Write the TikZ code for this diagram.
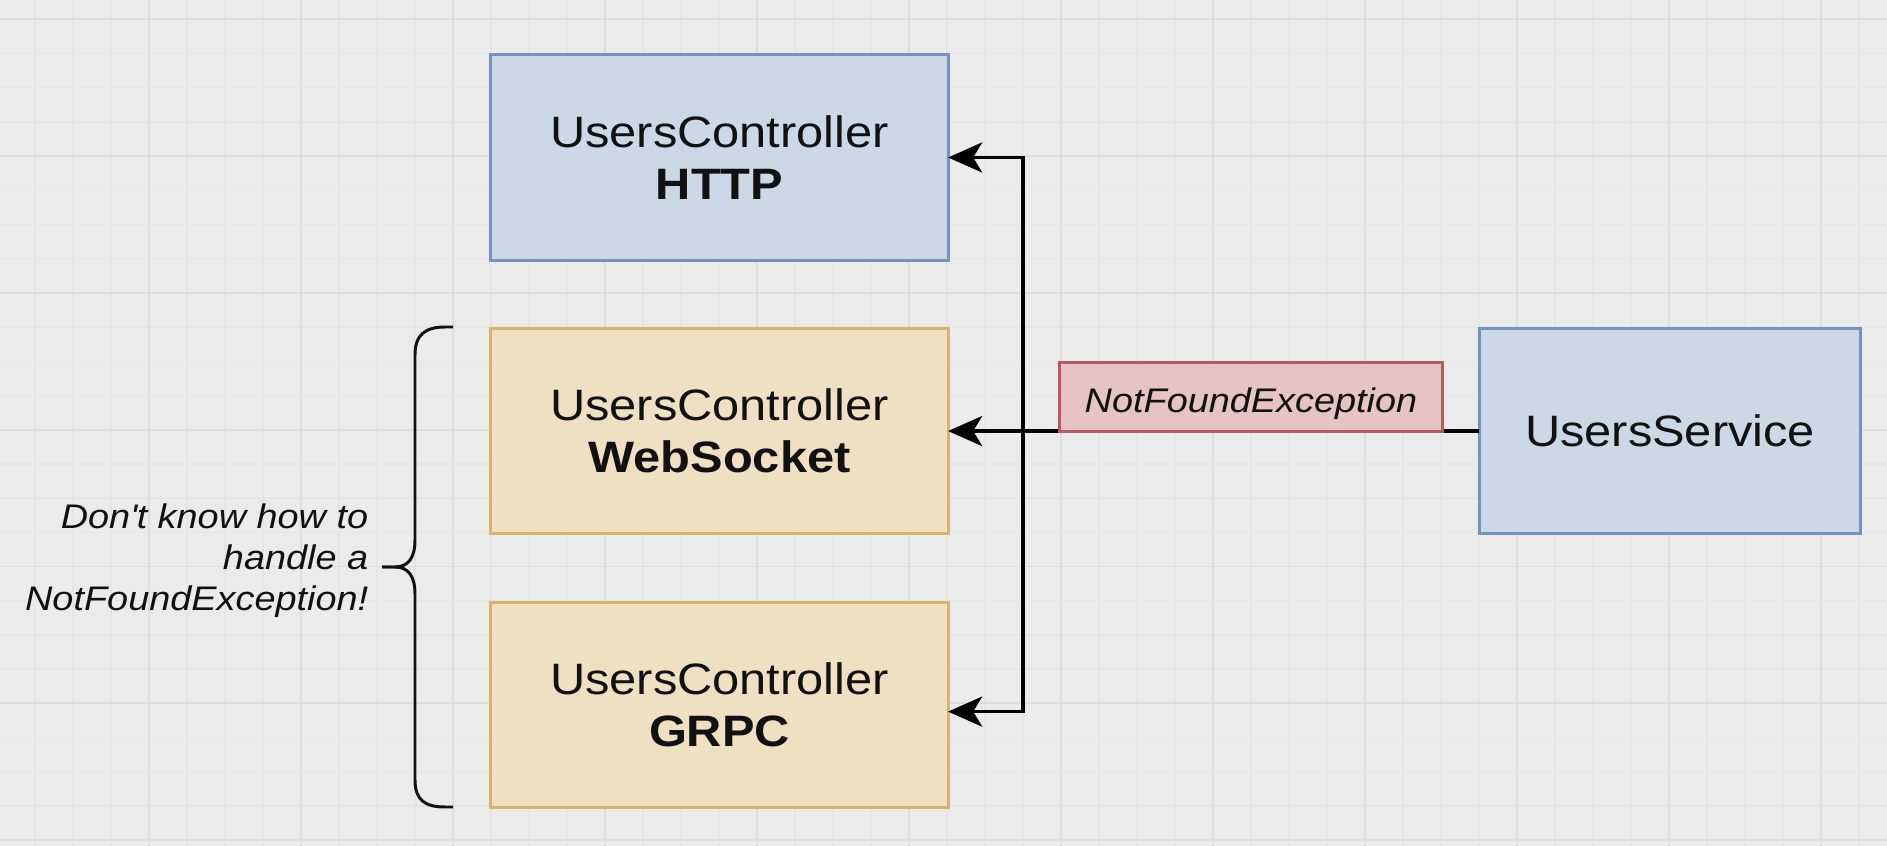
\documentclass[tikz,border=0pt]{standalone}
\usepackage{fontspec}
\setmainfont{Liberation Sans}[FakeStretch=1.11]
\usetikzlibrary{positioning,calc,arrows.meta}

\definecolor{bgc}{RGB}{235,235,235}
\definecolor{gridc}{RGB}{229,229,229}
\definecolor{gridm}{RGB}{222,222,222}
\definecolor{bluef}{RGB}{204,216,230}
\definecolor{blued}{RGB}{118,146,190}
\definecolor{tanf}{RGB}{239,223,195}
\definecolor{tand}{RGB}{214,180,110}
\definecolor{redf}{RGB}{230,195,197}
\definecolor{redd}{RGB}{184,91,94}
\definecolor{ink}{RGB}{17,17,17}

\tikzset{
  ctrl/.style={draw, line width=0.85pt, outer sep=0pt, inner sep=0pt,
    minimum width=4.57cm, minimum height=2.05cm, align=center, text=ink,
    font=\fontsize{12.5}{14.9}\selectfont},
  bluebox/.style={ctrl, fill=bluef, draw=blued},
  tanbox/.style={ctrl, fill=tanf, draw=tand},
  excbox/.style={draw=redd, fill=redf, line width=0.85pt, outer sep=0pt,
    inner sep=0pt, minimum width=3.82cm, minimum height=0.69cm, text=ink,
    text height=0.32cm, text depth=0cm,
    font=\itshape\fontsize{9.7}{11.6}\selectfont},
  note/.style={align=right, inner sep=0pt, text=ink,
    font=\itshape\fontsize{9.7}{11.67}\selectfont},
  gridln/.style={draw=gridc, line width=0.4pt},
  gridmaj/.style={draw=gridm, line width=0.5pt}
}

\begin{document}
\begin{tikzpicture}[x=0.01cm, y=-0.01cm, line width=1pt,
  >={Stealth[length=0.34cm, width=0.3cm, inset=0.09cm]}]
\useasboundingbox (0,0) rectangle (1887,846);
\fill[bgc] (0,0) rectangle (1887,846);
% grid
\foreach \i in {0,...,50} \draw[gridln] ({-3+38*\i},0) -- ++(0,846);
\foreach \j in {-1,...,24} \draw[gridln] (0,{19.3+34.2*\j}) -- ++(1887,0);
\foreach \i in {0,...,12} \draw[gridmaj] ({-3+152*\i},0) -- ++(0,846);
\foreach \j in {0,...,6} \draw[gridmaj] (0,{19.3+136.8*\j}) -- ++(1887,0);

% controllers and service
\node (H) [bluebox] at (719.5,157.5) {UsersController\\\textbf{HTTP}};
\node (W) [tanbox, below=0.684cm of H] {UsersController\\\textbf{WebSocket}};
\node (R) [tanbox, below=0.684cm of W] {UsersController\\\textbf{GRPC}};
\node (S) [bluebox, minimum width=3.81cm, right=5.31cm of W] {UsersService};

% connectors
\coordinate (J) at ($(W.east)+(75,0)$);
\draw[->] (S.west) -- node[excbox, pos=0.43, anchor=south] {NotFoundException} (W.east);
\draw[->] (J) |- (H.east);
\draw[->] (J) |- ($(R.east)+(0,7)$);

% brace and note
\draw[ink, line width=0.85pt] (453,327) -- (445,327) .. controls (425,327) and (415,335) .. (415,355)
  -- (415,540) .. controls (415,558) and (408,567) .. (395,567) -- (382,567);
\draw[ink, line width=0.85pt] (382,567) -- (395,567) .. controls (408,567) and (415,576) .. (415,594)
  -- (415,780) .. controls (415,800) and (425,807) .. (445,807) -- (453,807);
\node (N) [note, anchor=east] at (370,561) {Don\textquotesingle t know how to\\handle a\\NotFoundException!};
\end{tikzpicture}
\end{document}
